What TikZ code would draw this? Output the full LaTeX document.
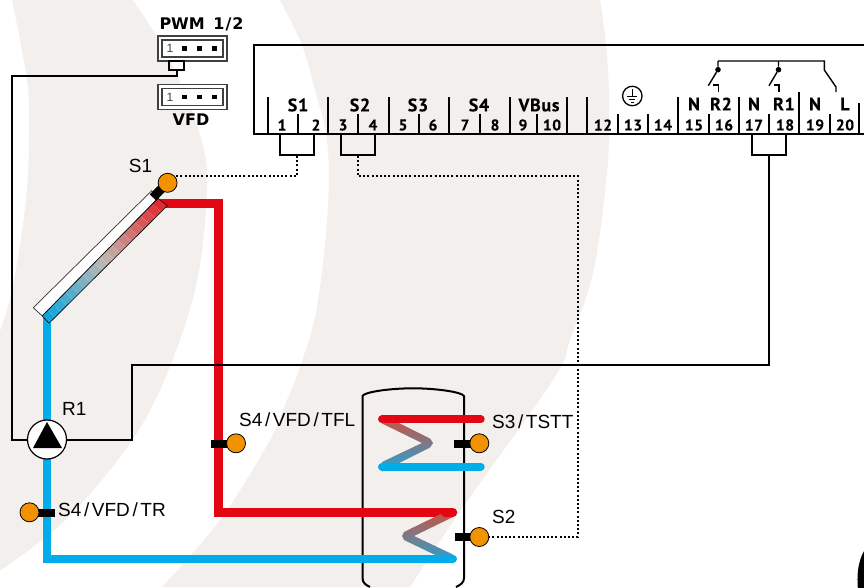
\documentclass[tikz,border=0pt]{standalone}
\usetikzlibrary{calc}
\usepackage{fontspec}
\setmainfont{Liberation Sans}
\newfontfamily\termfont[BoldFeatures={FakeBold=0.25,LetterSpace=4}]{PT Sans}
\newfontfamily\capfont{DejaVu Sans}
\definecolor{bandC}{HTML}{F2EFEC}
\definecolor{redC}{HTML}{E30613}
\definecolor{blueC}{HTML}{00ADEA}
\definecolor{orangeC}{HTML}{F39200}
\definecolor{midC}{HTML}{BFB8B2}
\definecolor{coilR}{HTML}{DB4A34}
\definecolor{coilB}{HTML}{1CA8DC}
\definecolor{stripR}{HTML}{E3242A}
\definecolor{stripB}{HTML}{08A4DE}
\definecolor{connC}{HTML}{404040}
\tikzset{
  wire/.style={draw=black,line width=2pt},
  thinwire/.style={draw=black,line width=1.4pt},
  sig/.style={draw=black,line width=1.9pt,dash pattern=on 2pt off 2.2pt},
  pipered/.style={draw=redC,line width=8.5pt},
  pipeblue/.style={draw=blueC,line width=8pt},
  sensor/.style={circle,fill=orangeC,draw=black,line width=.8pt,minimum size=19pt,inner sep=0pt},
  stem/.style={draw=black,line width=8pt},
  jumper/.style={rectangle,draw=black,line width=2pt,minimum width=34pt,minimum height=21pt,inner sep=0pt},
  lab/.style={inner sep=0pt,font=\fontsize{19}{20}\selectfont},
  term/.style={inner sep=0pt,font=\termfont\bfseries\fontsize{18}{20}\selectfont},
  num/.style={inner sep=0pt,font=\termfont\bfseries\fontsize{15.5}{18}\selectfont},
  conn/.style={inner sep=0pt,font=\capfont\bfseries\fontsize{16}{18}\selectfont},
  outerbox/.style={rectangle,draw=connC,line width=1.5pt,fill=white,minimum width=69pt,minimum height=25pt,inner sep=0pt},
  innerbox/.style={rectangle,draw=connC,line width=1.5pt,minimum width=61pt,minimum height=17pt,inner sep=0pt},
  pin/.style={rectangle,fill=black,minimum size=4.8pt,inner sep=0pt},
  pinone/.style={inner sep=0pt,text=connC,font=\fontsize{12}{12}\selectfont},
}
\newcommand{\slsh}{\kern2.6pt/\kern2.6pt}
\begin{document}
\begin{tikzpicture}[x=1pt,y=-1pt]
\useasboundingbox (0,0) rectangle (864,587);
\clip (0,0) rectangle (864,587);
% background bands
\fill[bandC] plot[smooth,tension=.6] coordinates {(133,0) (170,60) (200,135) (207,190) (195,290) (160,390) (120,457) (60,525) (-5,574)}
  -- plot[smooth,tension=.6] coordinates {(-5,345) (12,290) (26,200) (29,130) (27,80) (12,0)} -- cycle;
\fill[bandC] plot[smooth,tension=.6] coordinates {(280,0) (302,45) (315,90) (327,140) (328,207) (317,307) (300,367) (287,400) (270,440) (220,520) (162,587)}
  -- plot[smooth,tension=.6] coordinates {(410,587) (463,507) (553,380) (570,340) (593,273) (607,173) (609,100) (606,45) (600,0)} -- cycle;
% black blob bottom right
\fill[black] (866,548) .. controls (860,556) and (856,570) .. (858,590) -- (866,590) -- cycle;
% controller housing
\draw[wire] (866,44.7) -- (253.5,44.7) -- (253.5,134) -- (866,134);
\foreach \x/\t in {268/97,298/114,328/97,358/114,389/97,419/114,449/97,480/114,510/97,537/114,567/97,587/97,618/114,648/114,678/97,709/114,739/97,769/114,799/92,830/114,859/103}
  \draw[wire] (\x,\t) -- (\x,134);
% terminal labels
\node[term] (tS1) at (298,105) {S1};
\node[term] (tS2) at (360,105) {S2};
\node[term] (tS3) at (418,105) {S3};
\node[term] (tS4) at (479,105) {S4};
\node[term] (tVB) at (539,105) {VBus};
\node[term] (tN1) at (694,104) {N};
\node[term] (tR2) at (721,104) {R2};
\node[term] (tN2) at (754,104) {N};
\node[term] (tR1) at (784,104) {R1};
\node[term] (tN3) at (815,104) {N};
\node[term] (tL) at (845,104) {L};
\foreach \x/\n in {282/1,316/2,343/3,373/4,403/5,433/6,465/7,495/8,523/9,552/10,603/12,633/13,663/14,694/15,724/16,754/17,785/18,815/19,845/20}
  \node[num] (n\n) at (\x,125) {\n};
% earth symbol
\node[circle,draw=black,line width=1.3pt,minimum size=19.5pt,inner sep=0pt] (earth) at (632.3,96) {};
\draw[black,line width=1.2pt] (632.3,89) -- (632.3,96.7) (627.3,96.7) -- (637.3,96.7) (629.3,99.7) -- (635.3,99.7) (630.8,102.3) -- (633.8,102.3);
% relay contacts
\coordinate (r2top) at (718,61);
\coordinate (r1top) at (778.5,61);
\coordinate (lTop) at (824.3,61);
\draw[thinwire] (r2top) -- (lTop) -- (824.3,70) -- (836,87) -- (836,92);
\node[circle,fill=black,minimum size=5.6pt,inner sep=0pt] (d2) at (718,69.7) {};
\node[circle,fill=black,minimum size=5.6pt,inner sep=0pt] (d1) at (778.5,69.7) {};
\draw[thinwire] (r2top) -- (d2) -- (708.3,85.7);
\draw[thinwire] (r1top) -- (d1) -- (769,85.7);
\draw[thinwire] (713,85) -- (718.7,85) -- (718.7,92);
\draw[thinwire] (774,85) -- (779,85) -- (779,92);
% jumpers
\node[jumper] (j1) at (297,144.5) {};
\node[jumper] (j2) at (358,144.5) {};
\node[jumper] (j3) at (769,144.5) {};
% connectors PWM / VFD
\node[conn] (pwmT) at (201.5,24) {PWM\kern3pt{} 1\kern1pt/\kern1pt2};
\node[conn] (vfdT) at (191,120) {VFD};
\node[outerbox] (pwmO) at (192.5,48.5) {};
\node[innerbox] (pwmI) at (192.5,48.5) {};
\node[pinone] (p1a) at (170,48.8) {1};
\node[pin] (p2a) at (184.5,48.5) {};
\node[pin] (p3a) at (199.5,48.5) {};
\node[pin] (p4a) at (214.5,48.5) {};
\node[outerbox] (vfdO) at (192.5,97) {};
\node[innerbox] (vfdI) at (192.5,97) {};
\node[pinone] (p1b) at (170,97.3) {1};
\node[pin] (p2b) at (184.5,97) {};
\node[pin] (p3b) at (199.5,97) {};
\node[pin] (p4b) at (214.5,97) {};
\node[rectangle,draw=black,line width=1.8pt,minimum width=15pt,minimum height=9pt,inner sep=0pt] (tab) at (176.5,65.5) {};
% storage tank
\draw[black,line width=2pt] (362.5,578) -- (362.5,396) .. controls (364,392) and (390,388.3) .. (413,388.3) .. controls (436,388.3) and (462,392) .. (464,396) -- (464,578) .. controls (464,583) and (460,585) .. (456,587);
\draw[black,line width=2pt] (362.5,578) .. controls (362.5,583) and (366,585) .. (370,587);
% pipes
\draw[pipeblue] (47,318) -- (47,558.5) -- (453,558.5);
\draw[pipered] (160,203.5) -- (218.5,203.5) -- (218.5,512.3) -- (453,512.3);
% coils
\shade[top color=coilR,middle color=midC,bottom color=coilB] (382,414.5) -- (430,438.5) -- (433,443) -- (430,447.5) -- (382,471.5) -- (382,462) -- (422,443) -- (382,423.5) -- cycle;
\shade[top color=coilR,middle color=midC,bottom color=coilB] (453,508) -- (404,532) -- (402,536) -- (404,540) -- (453,563.5) -- (453,554.5) -- (414,536) -- (453,517) -- cycle;
\draw[draw=redC,line width=8pt,line cap=round] (382,419.3) -- (480.7,419.3);
\draw[draw=blueC,line width=8pt,line cap=round] (382,466.7) -- (480.7,466.7);
\draw[draw=redC,line width=8.5pt,line cap=round] (445,512.3) -- (453,512.3);
\draw[draw=blueC,line width=8pt,line cap=round] (445,558.5) -- (453,558.5);
% collector
\coordinate (cA) at (151.7,190.7);
\coordinate (cB) at (33.3,307.7);
\coordinate (cC) at (49,323.3);
\coordinate (cD) at (167.3,205.7);
\coordinate (cE) at (42.3,315.9);
\coordinate (cF) at (158,198.3);
\draw[fill=white,draw=black!80,line width=.7pt] (cA) -- (cB) -- (cE) -- (cF) -- cycle;
\foreach \i in {0,...,19}{
  \pgfmathsetmacro{\ta}{\i/20}
  \pgfmathsetmacro{\tb}{(\i+1)/20}
  \pgfmathsetmacro{\tm}{(\i+.5)/20}
  \pgfmathsetmacro{\pA}{\tm<.5 ? 200*\tm : 200*\tm-100}
  \ifnum\i<10
    \colorlet{segC}{midC!\pA!stripB}
  \else
    \colorlet{segC}{stripR!\pA!midC}
  \fi
  \fill[segC] ($(cE)!\ta!(cF)$) -- ($(cE)!\tb!(cF)$) -- ($(cC)!\tb!(cD)$) -- ($(cC)!\ta!(cD)$) -- cycle;
  \draw[white,opacity=.25,line width=.5pt] ($(cE)!\tb!(cF)$) -- ($(cC)!\tb!(cD)$);
}
\draw[black,line width=.6pt] (cE) -- (cC) -- (cD) -- (cF) -- cycle;
% pump wires
\node[circle,fill=white,draw=black,line width=1.2pt,minimum size=39pt,inner sep=0pt] (pump) at (47,439.5) {};
\fill[black] (47,422) -- (62,448) -- (33,448) -- cycle;
\coordinate (w1) at (12,439.5);
\coordinate (w2) at (12,76);
\coordinate (w3) at (176.5,76);
\coordinate (w4) at (132,439.5);
\coordinate (w5) at (132,365);
\coordinate (w6) at (769,365);
\draw[wire] (pump.west) -- (w1) -- (w2) -- (w3) -- (tab.south);
\draw[wire] (pump.east) -- (w4) -- (w5) -- (w6) -- (j3.south);
% sensors
\coordinate (st1) at (153,197.5);
\coordinate (st2) at (29.5,513);
\coordinate (st3) at (211,443.5);
\coordinate (st4) at (454,443.8);
\coordinate (st5) at (455,537.3);
\coordinate (st2b) at (55,513);
\draw[stem,line width=9pt] (st1) -- (165,185);
\draw[stem] (st2) -- (st2b);
\draw[stem] (st3) -- (232,443.5);
\draw[stem] (st4) -- (475,443.8);
\draw[stem] (st5) -- (475,537.3);
\node[sensor] (s1) at (167.6,182.8) {};
\node[sensor] (s4r) at (29.5,512.3) {};
\node[sensor] (s4f) at (236,443.3) {};
\node[sensor] (s3) at (479.3,443.3) {};
\node[sensor] (s2) at (479.3,537) {};
% signal lines
\coordinate (k1) at (578,176);
\coordinate (k2) at (578,537);
\draw[sig] (j1.south) |- (s1.45);
\draw[sig] (j2.south) |- (k1) -- (k2) -- (s2.east);
% labels
\node[lab,anchor=center] (lS1) at (140.5,166) {S1};
\node[lab,anchor=west] (lTFL) at (239,420) {S4\slsh VFD\slsh TFL};
\node[lab,anchor=west] (lS3) at (492,422) {S3\slsh TSTT};
\node[lab,anchor=west] (lS2) at (492,517) {S2};
\node[lab,anchor=west] (lR1) at (62,409) {R1};
\node[lab,anchor=west] (lTR) at (58,510) {S4\slsh VFD\slsh TR};
\end{tikzpicture}
\end{document}
